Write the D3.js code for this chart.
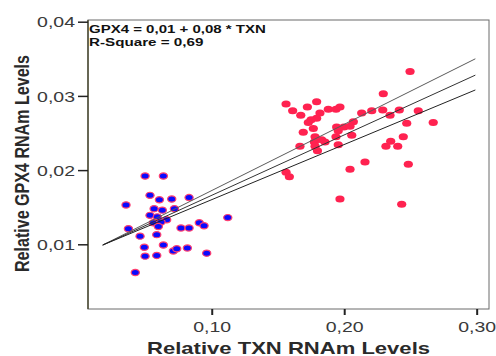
<!DOCTYPE html>
<html>
<head>
<meta charset="utf-8">
<script src="https://cdn.jsdelivr.net/npm/d3@7"></script>
<style>
  body { margin: 0; background: #fff; }
  svg { display: block; font-family: "Liberation Sans", Arial, sans-serif; }
</style>
</head>
<body>
<svg id="chart" width="496" height="356"></svg>
<script>
// axis ticks
const xTicks = [0.10, 0.20, 0.30]
const xTickLabels = ['0,10', '0,20', '0,30']
const yTicks = [0.01, 0.02, 0.03, 0.04]
const yTickLabels = ['0,01', '0,02', '0,03', '0,04']

// low TXN group (blue)
const blueTXN = [0.0497, 0.0635, 0.0534, 0.0605, 0.0698, 0.0829, 0.0353, 0.0565, 0.0627, 0.0718, 0.0534,
    0.0589, 0.0660, 0.0559, 0.0617, 0.0597, 0.1121, 0.0906, 0.0942, 0.0768, 0.0829, 0.0371, 0.0459, 0.0585,
    0.0491, 0.0635, 0.0710, 0.0736, 0.0816, 0.0497, 0.0585, 0.0962, 0.0423]
const blueGPX4 = [0.0192, 0.0192, 0.0166, 0.0160, 0.0161, 0.0163, 0.0153, 0.0148, 0.0146, 0.0148, 0.0139,
    0.0137, 0.0133, 0.0129, 0.0130, 0.0124, 0.0136, 0.0129, 0.0125, 0.0122, 0.0122, 0.0121, 0.0111, 0.0113,
    0.0096, 0.0099, 0.0091, 0.0094, 0.0095, 0.0084, 0.0085, 0.0088, 0.0062]

// high TXN group (red)
const redTXN = [0.2497, 0.2295, 0.1561, 0.1792, 0.1611, 0.1722, 0.1672, 0.1817, 0.1880, 0.1938, 0.1968,
    0.1792, 0.1750, 0.2132, 0.2208, 0.2291, 0.2346, 0.2416, 0.2559, 0.2472, 0.2672, 0.1729, 0.1767, 0.1691,
    0.1943, 0.1998, 0.2069, 0.2044, 0.2057, 0.1938, 0.1955, 0.1780, 0.1830, 0.1775, 0.1855, 0.1666, 0.1780,
    0.1955, 0.1798, 0.2446, 0.2351, 0.2315, 0.2404, 0.2157, 0.2044, 0.2484, 0.1561, 0.1586, 0.1968, 0.2434]
const redGPX4 = [0.0333, 0.0303, 0.0289, 0.0292, 0.0280, 0.0285, 0.0274, 0.0277, 0.0282, 0.0282, 0.0285,
    0.0270, 0.0268, 0.0277, 0.0280, 0.0281, 0.0274, 0.0281, 0.0280, 0.0263, 0.0264, 0.0264, 0.0256, 0.0251,
    0.0258, 0.0258, 0.0265, 0.0259, 0.0247, 0.0245, 0.0253, 0.0245, 0.0241, 0.0238, 0.0238, 0.0232, 0.0232,
    0.0234, 0.0226, 0.0245, 0.0239, 0.0232, 0.0232, 0.0211, 0.0201, 0.0208, 0.0197, 0.0191, 0.0161, 0.0154]

// fit line and its two bands: start and end points
const fitTXN = [0.0177, 0.2990]
const fitUpper = [0.0099, 0.0350]
const fitMid = [0.0099, 0.0328]
const fitLower = [0.0099, 0.0308]

const equationLines = ['GPX4 = 0,01 + 0,08 * TXN', 'R-Square = 0,69']
const xTitle = 'Relative TXN RNAm Levels'
const yTitle = 'Relative GPX4 RNAm Levels'

// the original picture is stretched sideways, text too
const stretch = 1.3
const frame = { left: 88, top: 20, right: 489, bottom: 309 }

const svg = d3.select('#chart')

const x = d3.scaleLinear().domain([0.0066, 0.3093]).range([frame.left, frame.right])
const y = d3.scaleLinear().domain([0.00128, 0.04023]).range([frame.bottom, frame.top])

// frame
svg.append('rect')
    .attr('x', frame.left).attr('y', frame.top)
    .attr('width', frame.right - frame.left).attr('height', frame.bottom - frame.top)
    .attr('fill', 'none').attr('stroke', '#6a6a6a').attr('stroke-width', 1)
svg.append('line')
    .attr('x1', frame.left).attr('x2', frame.left).attr('y1', frame.top).attr('y2', frame.bottom)
    .attr('stroke', '#4e4e36').attr('stroke-width', 1.5)

// axes
const xAxis = svg.append('g')
    .attr('transform', `translate(0,${ frame.bottom })`)
    .call(d3.axisBottom(x).tickValues(xTicks).tickSize(6).tickSizeOuter(0)
        .tickFormat((d, i) => xTickLabels[i]))
xAxis.select('.domain').remove()
xAxis.selectAll('line').attr('stroke', '#222').attr('stroke-width', 2)
xAxis.selectAll('text')
    .attr('y', 0).attr('dy', null)
    .attr('transform', `translate(0,23) scale(${ stretch },1)`)
    .attr('font-size', 15).attr('fill', '#3a3a3a')
    .attr('font-family', '"Liberation Sans", Arial, sans-serif')

const yAxis = svg.append('g')
    .attr('transform', `translate(${ frame.left },0)`)
    .call(d3.axisLeft(y).tickValues(yTicks).tickSize(10).tickSizeOuter(0)
        .tickFormat((d, i) => yTickLabels[i]))
yAxis.select('.domain').remove()
yAxis.selectAll('line').attr('stroke', '#222').attr('stroke-width', 1.5)
yAxis.selectAll('text')
    .attr('x', 0).attr('dy', '0.35em')
    .attr('transform', `translate(-13,0) scale(${ stretch },1)`)
    .attr('font-size', 15).attr('fill', '#3a3a3a')
    .attr('font-family', '"Liberation Sans", Arial, sans-serif')

// points
const plot = svg.append('g')

plot.selectAll('.red')
    .data(redTXN.map((d, i) => [d, redGPX4[i]]))
    .join('ellipse')
    .attr('class', 'red')
    .attr('cx', d => x(d[0])).attr('cy', d => y(d[1]))
    .attr('rx', 4.6).attr('ry', 3.5)
    .attr('fill', '#ff2250')

plot.selectAll('.blue')
    .data(blueTXN.map((d, i) => [d, blueGPX4[i]]))
    .join('ellipse')
    .attr('class', 'blue')
    .attr('cx', d => x(d[0])).attr('cy', d => y(d[1]))
    .attr('rx', 4.1).attr('ry', 3.1)
    .attr('fill', '#0a0aff')
    .attr('stroke', '#ff4070').attr('stroke-width', 1.2)

// regression lines
const line = d3.line().x(d => x(d[0])).y(d => y(d[1]))
const fits = [[fitUpper, '#5a5a5a'], [fitMid, '#333'], [fitLower, '#222']]
fits.forEach(([vals, color]) => {
    plot.append('path')
        .datum(fitTXN.map((t, i) => [t, vals[i]]))
        .attr('fill', 'none')
        .attr('stroke', color)
        .attr('stroke-width', 1)
        .attr('d', line)
})

// equation
const eqWidths = [136, 88]
equationLines.forEach((txt, i) => {
    svg.append('text')
        .attr('transform', `translate(${ frame.left + 1 },${ 32.5 + i * 13.2 }) scale(${ stretch },1)`)
        .attr('font-size', 10.5).attr('font-weight', 'bold').attr('fill', '#111')
        .attr('textLength', eqWidths[i]).attr('lengthAdjust', 'spacingAndGlyphs')
        .text(txt)
})

// axis titles
svg.append('text')
    .attr('transform', `translate(288.5,354) scale(${ stretch },1)`)
    .attr('text-anchor', 'middle')
    .attr('font-size', 16).attr('font-weight', 'bold').attr('fill', '#2a2a2a')
    .attr('textLength', 283 / stretch).attr('lengthAdjust', 'spacingAndGlyphs')
    .text(xTitle)

svg.append('text')
    .attr('transform', `translate(28.5,163.5) scale(${ stretch },1) rotate(-90)`)
    .attr('text-anchor', 'middle')
    .attr('font-size', 16).attr('font-weight', 'bold').attr('fill', '#2a2a2a')
    .attr('textLength', 217).attr('lengthAdjust', 'spacingAndGlyphs')
    .text(yTitle)
</script>
</body>
</html>
